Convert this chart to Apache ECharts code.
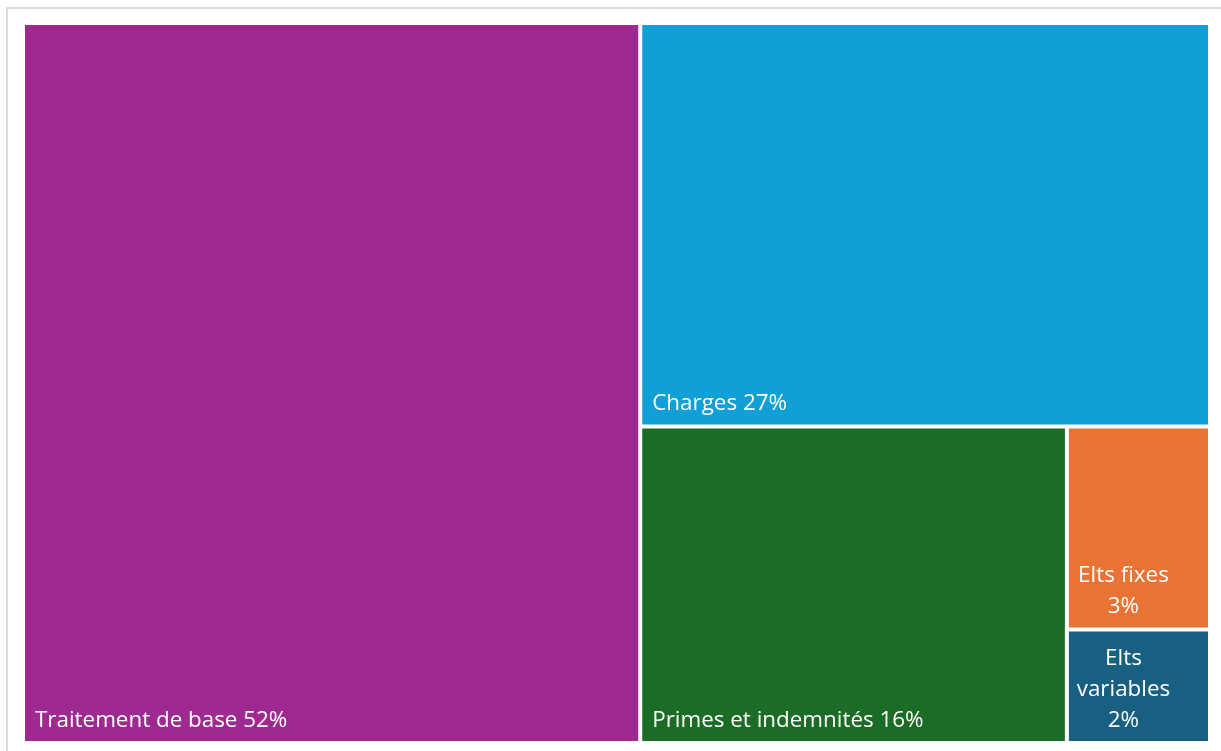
<!DOCTYPE html>
<html>
<head>
<meta charset="utf-8">
<script src="https://cdn.jsdelivr.net/npm/echarts@6/dist/echarts.min.js"></script>
<style>
  html, body { margin: 0; padding: 0; background: #fff; overflow: hidden; }
  #frame { position: absolute; left: 6px; top: 7px; width: 1400px; height: 900px; border: 2px solid #dcdcdc; box-sizing: border-box; }
  #chart { position: absolute; left: 0; top: 0; width: 1221px; height: 751px; }
</style>
</head>
<body>
<div id="frame"></div>
<div id="chart"></div>
<script>
// Data
const categories = ["Traitement de base", "Charges", "Primes et indemnités", "Elts fixes", "Elts variables"];
const shares = [52.0, 26.9, 15.8, 3.4, 1.9];           // percent of total
const labelNames = ["Traitement de base", "Charges", "Primes et indemnités", "Elts fixes", "Elts\nvariables"];
const colors = ["#9E2A91", "#119FD7", "#1B6C25", "#E97334", "#186082"];

const chart = echarts.init(document.getElementById('chart'), null, { renderer: 'canvas' });

const data = categories.map((name, i) => {
  const item = {
    name: name,
    value: shares[i],
    itemStyle: { color: colors[i] },
    label: {
      formatter: labelNames[i] + (i >= 3 ? '\n' : ' ') + Math.round(shares[i]) + '%'
    }
  };
  if (i >= 3) {
    item.label.position = 'insideBottom';
    item.label.align = 'center';
    item.label.offset = [-15, 8];
  }
  return item;
});

chart.setOption({
  animation: false,
  series: [{
    type: 'treemap',
    left: 25, top: 25, right: 13, bottom: 10,
    roam: false,
    nodeClick: false,
    breadcrumb: { show: false },
    squareRatio: 1,
    itemStyle: { borderWidth: 0, gapWidth: 4, borderColor: '#fff' },
    levels: [{ itemStyle: { borderWidth: 0, gapWidth: 4, borderColor: '#fff' } }],
    label: {
      show: true,
      position: 'insideBottomLeft',
      distance: 8,
      offset: [-3, 8],
      color: '#ffffff',
      fontFamily: '"Open Sans", "Noto Sans", sans-serif',
      fontSize: 22.4,
      lineHeight: 31,
      overflow: 'none'
    },
    emphasis: { disabled: true },
    data: data
  }]
});
</script>
</body>
</html>
